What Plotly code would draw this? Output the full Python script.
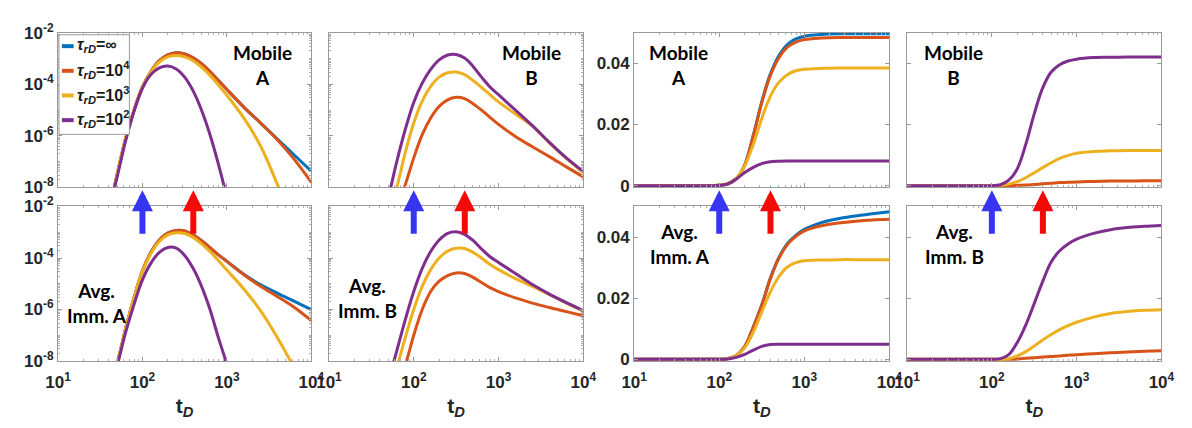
import numpy as np
import plotly.graph_objects as go
from plotly.subplots import make_subplots

W, H = 1192, 428

# dimensionless time grid shared by every curve
t_d = [10, 31.6, 50.1, 63.1, 79.4, 100, 125.9, 158.5, 199.5, 251.2, 316.2,
       398.1, 501.2, 631.0, 794.3, 1000, 1584.9, 2511.9, 3981.1, 6309.6, 10000]

# ---- Mobile A (log scale) ----
mob_a_inf = [1e-16, 3.16e-11, 3.16e-8, 7.94e-7, 1.0e-5, 7.94e-5, 3.16e-4, 8.32e-4, 1.41e-3, 1.70e-3, 1.51e-3,
             1.07e-3, 6.31e-4, 3.16e-4, 1.41e-4, 6.31e-5, 1.32e-5, 3.16e-6, 7.41e-7, 1.78e-7, 4.27e-8]
mob_a_1e4 = [1e-16, 3.16e-11, 3.16e-8, 7.94e-7, 1.0e-5, 7.94e-5, 3.16e-4, 8.32e-4, 1.41e-3, 1.70e-3, 1.51e-3,
             1.07e-3, 6.31e-4, 3.16e-4, 1.41e-4, 6.31e-5, 1.32e-5, 3.16e-6, 6.92e-7, 1.20e-7, 1.58e-8]
mob_a_1e3 = [1e-16, 3.16e-11, 3.16e-8, 7.94e-7, 1.0e-5, 7.94e-5, 3.02e-4, 7.41e-4, 1.17e-3, 1.32e-3, 1.17e-3,
             8.32e-4, 4.68e-4, 2.24e-4, 9.55e-5, 3.80e-5, 5.01e-6, 3.98e-7, 1.26e-8, 2.51e-10, 3.16e-12]
mob_a_1e2 = [1e-20, 6.31e-11, 2.51e-8, 6.31e-7, 8.91e-6, 7.08e-5, 2.40e-4, 4.37e-4, 5.13e-4, 3.98e-4, 1.91e-4,
             5.62e-5, 1.0e-5, 1.12e-6, 7.94e-8, 3.98e-9, 3.16e-12, 1e-15, 1e-19, 1e-23, 1e-28]

# ---- Mobile B (log scale) ----
mob_b_1e4 = [1e-20, 1e-12, 1.26e-10, 1.58e-9, 1.26e-8, 1.41e-7, 1.12e-6, 5.01e-6, 1.41e-5, 2.51e-5, 3.16e-5,
             2.82e-5, 1.78e-5, 1.0e-5, 5.25e-6, 2.82e-6, 9.55e-7, 3.80e-7, 1.58e-7, 6.31e-8, 2.57e-8]
mob_b_1e3 = [1e-20, 3.16e-12, 7.94e-10, 1.0e-8, 2.24e-7, 3.16e-6, 2.24e-5, 8.32e-5, 1.91e-4, 2.82e-4, 3.02e-4,
             2.40e-4, 1.41e-4, 7.59e-5, 3.98e-5, 2.09e-5, 7.08e-6, 2.40e-6, 5.37e-7, 1.35e-7, 3.80e-8]
mob_b_1e2 = [1e-20, 1e-11, 3.98e-9, 1.0e-7, 1.78e-6, 2.0e-5, 1.12e-4, 3.80e-4, 8.91e-4, 1.38e-3, 1.45e-3,
             1.05e-3, 5.01e-4, 1.91e-4, 7.94e-5, 3.98e-5, 1.0e-5, 2.51e-6, 5.62e-7, 1.41e-7, 4.17e-8]

# ---- Average immobile A (log scale) ----
imm_a_inf = [1e-16, 6.31e-11, 7.94e-9, 1.78e-7, 2.82e-6, 3.16e-5, 1.66e-4, 5.01e-4, 9.33e-4, 1.17e-3, 1.12e-3,
             7.94e-4, 4.68e-4, 2.51e-4, 1.32e-4, 7.41e-5, 2.34e-5, 9.12e-6, 4.27e-6, 2.09e-6, 1.0e-6]
imm_a_1e4 = [1e-16, 6.31e-11, 7.94e-9, 1.78e-7, 2.82e-6, 3.16e-5, 1.66e-4, 5.01e-4, 9.33e-4, 1.17e-3, 1.12e-3,
             7.94e-4, 4.68e-4, 2.51e-4, 1.32e-4, 7.41e-5, 2.24e-5, 7.94e-6, 3.16e-6, 1.20e-6, 3.72e-7]
imm_a_1e3 = [1e-16, 6.31e-11, 7.94e-9, 1.78e-7, 2.82e-6, 3.02e-5, 1.51e-4, 4.37e-4, 7.94e-4, 9.55e-4, 8.91e-4,
             6.31e-4, 3.55e-4, 1.78e-4, 7.94e-5, 3.39e-5, 6.31e-6, 8.91e-7, 7.94e-8, 5.01e-9, 1.58e-10]
imm_a_1e2 = [1e-20, 2.0e-11, 6.31e-9, 1.26e-7, 1.58e-6, 1.41e-5, 6.31e-5, 1.66e-4, 2.57e-4, 2.40e-4, 1.26e-4,
             3.98e-5, 7.94e-6, 1.0e-6, 7.94e-8, 7.08e-9, 1e-11, 1e-14, 1e-18, 1e-22, 1e-26]

# ---- Average immobile B (log scale) ----
imm_b_1e4 = [1e-20, 3.16e-13, 1e-10, 1.26e-9, 7.08e-9, 1.0e-7, 1.0e-6, 5.01e-6, 1.26e-5, 2.09e-5, 2.63e-5,
             2.51e-5, 1.78e-5, 1.12e-5, 7.08e-6, 5.01e-6, 2.82e-6, 1.78e-6, 1.20e-6, 8.32e-7, 5.75e-7]
imm_b_1e3 = [1e-20, 1e-12, 5.01e-10, 5.62e-9, 7.94e-8, 1.0e-6, 7.94e-6, 3.55e-5, 1.0e-4, 1.86e-4, 2.40e-4,
             2.34e-4, 1.66e-4, 1.0e-4, 5.62e-5, 3.55e-5, 1.58e-5, 7.94e-6, 3.80e-6, 1.78e-6, 8.71e-7]
imm_b_1e2 = [1e-20, 3.16e-12, 1.58e-9, 2.51e-8, 3.98e-7, 5.01e-6, 3.98e-5, 1.78e-4, 5.01e-4, 9.12e-4, 1.05e-3,
             8.32e-4, 4.79e-4, 2.24e-4, 1.12e-4, 6.76e-5, 2.51e-5, 9.33e-6, 3.98e-6, 1.86e-6, 9.12e-7]

# ---- Cumulative Mobile A (linear scale) ----
cum_mob_a_inf = [0, 0, 0, 0, 0, 0.0001, 0.0005, 0.0022, 0.0068, 0.0165, 0.0275,
                 0.0365, 0.0425, 0.0462, 0.0480, 0.0489, 0.0495, 0.0497, 0.0497, 0.0497, 0.0497]
cum_mob_a_1e4 = [0, 0, 0, 0, 0, 0.0001, 0.0005, 0.0022, 0.0067, 0.0163, 0.0272,
                 0.0360, 0.0418, 0.0453, 0.0470, 0.0478, 0.0483, 0.0485, 0.0485, 0.0485, 0.0485]
cum_mob_a_1e3 = [0, 0, 0, 0, 0, 0.0002, 0.0007, 0.0025, 0.0065, 0.0135, 0.0220,
                 0.0292, 0.0338, 0.0363, 0.0376, 0.0381, 0.0384, 0.0385, 0.0385, 0.0385, 0.0385]
cum_mob_a_1e2 = [0, 0, 0, 0, 0, 0.0001, 0.0006, 0.0022, 0.0043, 0.0060, 0.0072,
                 0.0078, 0.0080, 0.0081, 0.0081, 0.0081, 0.0081, 0.0081, 0.0081, 0.0081, 0.0081]

# ---- Cumulative Mobile B (linear scale) ----
cum_mob_b_1e4 = [0, 0, 0, 0, 0, 0, 0, 0, 0.0001, 0.0002, 0.0004,
                 0.0006, 0.0008, 0.0010, 0.0011, 0.0012, 0.0014, 0.0015, 0.0015, 0.0016, 0.0016]
cum_mob_b_1e3 = [0, 0, 0, 0, 0, 0, 0.0001, 0.0005, 0.0013, 0.0026, 0.0042,
                 0.0059, 0.0075, 0.0089, 0.0099, 0.0106, 0.0112, 0.0114, 0.0115, 0.0115, 0.0115]
cum_mob_b_1e2 = [0, 0, 0, 0, 0, 0, 0.0003, 0.0018, 0.0055, 0.0135, 0.0235,
                 0.0320, 0.0372, 0.0396, 0.0408, 0.0414, 0.0419, 0.0420, 0.0421, 0.0421, 0.0421]

# ---- Cumulative average immobile A (linear scale) ----
cum_imm_a_inf = [0, 0, 0, 0, 0, 0, 0.0002, 0.0012, 0.0042, 0.0105, 0.0178,
                 0.0265, 0.0332, 0.0378, 0.0405, 0.0425, 0.0447, 0.0460, 0.0469, 0.0476, 0.0483]
cum_imm_a_1e4 = [0, 0, 0, 0, 0, 0, 0.0002, 0.0012, 0.0042, 0.0105, 0.0177,
                 0.0263, 0.0330, 0.0375, 0.0402, 0.0420, 0.0437, 0.0446, 0.0452, 0.0456, 0.0458]
cum_imm_a_1e3 = [0, 0, 0, 0, 0, 0, 0.0002, 0.0012, 0.0038, 0.0088, 0.0155,
                 0.0220, 0.0270, 0.0302, 0.0316, 0.0322, 0.0325, 0.0326, 0.0326, 0.0326, 0.0326]
cum_imm_a_1e2 = [0, 0, 0, 0, 0, 0, 0.0001, 0.0006, 0.0016, 0.0030, 0.0042,
                 0.0048, 0.0049, 0.0049, 0.0049, 0.0049, 0.0049, 0.0049, 0.0049, 0.0049, 0.0049]

# ---- Cumulative average immobile B (linear scale) ----
cum_imm_b_1e4 = [0, 0, 0, 0, 0, 0, 0, 0, 0.0001, 0.0003, 0.0005,
                 0.0007, 0.0009, 0.0011, 0.0013, 0.0015, 0.0018, 0.0021, 0.0024, 0.0026, 0.0028]
cum_imm_b_1e3 = [0, 0, 0, 0, 0, 0, 0, 0.0002, 0.0011, 0.0025, 0.0043,
                 0.0063, 0.0081, 0.0097, 0.0110, 0.0121, 0.0138, 0.0150, 0.0156, 0.0160, 0.0162]
cum_imm_b_1e2 = [0, 0, 0, 0, 0, 0, 0.0002, 0.0015, 0.0055, 0.0112, 0.0182,
                 0.0255, 0.0318, 0.0355, 0.0377, 0.0393, 0.0412, 0.0424, 0.0431, 0.0435, 0.0438]

# reaction-time cases and their legend labels
tau_keys = ["inf", "1e4", "1e3", "1e2"]
tau_labels = ["<i>τ</i><sub><i>rD</i></sub>=∞",
              "<i>τ</i><sub><i>rD</i></sub>=10<sup>4</sup>",
              "<i>τ</i><sub><i>rD</i></sub>=10<sup>3</sup>",
              "<i>τ</i><sub><i>rD</i></sub>=10<sup>2</sup>"]
tau_colors = ["#0072BD", "#D95319", "#EDB120", "#7E2F8E"]

# marker times highlighted by arrows
arrow_times = [100, 400]
arrow_colors = ["#3535f2", "#f50a0a"]

panels = [
    # (row, col, log y?, series, label lines, label position in px)
    (1, 1, True, {"inf": mob_a_inf, "1e4": mob_a_1e4, "1e3": mob_a_1e3, "1e2": mob_a_1e2}, "Mobile<br>A", (255, 56)),
    (1, 2, True, {"1e4": mob_b_1e4, "1e3": mob_b_1e3, "1e2": mob_b_1e2}, "Mobile<br>B", (530, 56)),
    (1, 3, False, {"inf": cum_mob_a_inf, "1e4": cum_mob_a_1e4, "1e3": cum_mob_a_1e3, "1e2": cum_mob_a_1e2}, "Mobile<br>A", (680, 56)),
    (1, 4, False, {"1e4": cum_mob_b_1e4, "1e3": cum_mob_b_1e3, "1e2": cum_mob_b_1e2}, "Mobile<br>B", (961, 56)),
    (2, 1, True, {"inf": imm_a_inf, "1e4": imm_a_1e4, "1e3": imm_a_1e3, "1e2": imm_a_1e2}, "Avg.<br>Imm. A", (86, 307)),
    (2, 2, True, {"1e4": imm_b_1e4, "1e3": imm_b_1e3, "1e2": imm_b_1e2}, "Avg.<br>Imm. B", (362, 301)),
    (2, 3, False, {"inf": cum_imm_a_inf, "1e4": cum_imm_a_1e4, "1e3": cum_imm_a_1e3, "1e2": cum_imm_a_1e2}, "Avg.<br>Imm. A", (682, 245)),
    (2, 4, False, {"1e4": cum_imm_b_1e4, "1e3": cum_imm_b_1e3, "1e2": cum_imm_b_1e2}, "Avg.<br>Imm. B", (962, 245)),
]

# subplot frames in pixels
COL_PX = [(46, 305), (323, 583), (635, 896), (914, 1174)]
ROW_PX = [(22, 185), (205, 368)]

# hand-placed legend frame and rows (pixels) inside the first panel
LEG_BOX = (47, 24, 119, 129)
LEG_ROWS = [36, 62, 88, 114]

fig = make_subplots(rows=2, cols=4)

for r, c, is_log, series, label, _ in panels:
    for key, name, color in zip(tau_keys, tau_labels, tau_colors):
        if key not in series:
            continue
        fig.add_trace(go.Scatter(
            x=t_d, y=series[key], mode="lines", name=name, legendgroup=key,
            showlegend=False,
            line=dict(color=color, width=3, shape="spline", smoothing=1),
            hoverinfo="skip"), row=r, col=c)

FONT = "Liberation Sans"
tick_font = dict(family=FONT, size=17, color="#262626", weight="bold")
frame = dict(showline=True, linecolor="#9a9a9a", linewidth=1, mirror="ticks",
             ticks="inside", ticklen=4, tickcolor="#9a9a9a", showgrid=False, zeroline=False)

x_major = [10, 100, 1000, 10000]
x_major_txt = ["<b>10<sup>1</sup></b>", "<b>10<sup>2</sup></b>", "<b>10<sup>3</sup></b>", "<b>10<sup>4</sup></b>"]
x_minor = [k * 10 ** n for n in range(1, 4) for k in range(2, 10)]
y_major = [1e-8, 1e-6, 1e-4, 1e-2]
y_major_txt = ["<b>10<sup>-8</sup></b>", "<b>10<sup>-6</sup></b>", "<b>10<sup>-4</sup></b>", "<b>10<sup>-2</sup></b>"]
y_minor = [k * 10.0 ** n for n in range(-8, -2) for k in range(1, 10) if not (k == 1 and n % 2 == 0)]

annotations = []
shapes = []
for idx, (r, c, is_log, series, label, (lx, ly)) in enumerate(panels):
    n = idx + 1
    x0, x1 = COL_PX[c - 1]
    y0, y1 = ROW_PX[r - 1]
    xa = dict(frame, type="log", range=[1, 4], domain=[x0 / W, x1 / W],
              tickvals=x_major, ticktext=x_major_txt, tickfont=tick_font,
              showticklabels=(r == 2), ticklabelstandoff=6,
              minor=dict(ticks="inside", ticklen=2, tickcolor="#b0b0b0", tickvals=x_minor))
    if r == 2:
        xa["title"] = dict(text="<b>t<sub><i>D</i></sub></b>", standoff=6,
                           font=dict(family=FONT, size=21, color="#262626"))
    if is_log:
        ya = dict(frame, type="log", range=[-8, -2], tickvals=y_major, ticktext=y_major_txt,
                  minor=dict(ticks="inside", ticklen=2, tickcolor="#b0b0b0", tickvals=y_minor))
    else:
        ya = dict(frame, type="linear", range=[-0.0006, 0.05], tickvals=[0, 0.02, 0.04],
                  ticktext=["<b>0</b>", "<b>0.02</b>", "<b>0.04</b>"])
    ya.update(domain=[1 - y1 / H, 1 - y0 / H], tickfont=tick_font,
              showticklabels=(c in (1, 3)))
    fig.layout[f"xaxis{n}"].update(xa)
    fig.layout[f"yaxis{n}"].update(ya)

    annotations.append(dict(text=f"<b>{label}</b>", x=lx / W, y=1 - ly / H, xref="paper", yref="paper",
                            showarrow=False, xanchor="center", yanchor="middle",
                            font=dict(family="Lato", size=19, color="black")))

# arrows linking the two rows at the marked times
for c in range(4):
    for t, col in zip(arrow_times, arrow_colors):
        annotations.append(dict(text="", x=float(np.log10(t)), xref=f"x{5 + c}",
                                y=1 - 188 / H, yref="paper", ax=0, ay=45,
                                showarrow=True, arrowhead=2, arrowsize=0.7,
                                arrowwidth=6, arrowcolor=col))

# legend: framed box with a short line key per reaction-time case
bx0, by0, bx1, by1 = LEG_BOX
shapes.append(dict(type="rect", xref="paper", yref="paper",
                   x0=bx0 / W, x1=bx1 / W, y0=1 - by1 / H, y1=1 - by0 / H,
                   fillcolor="white", line=dict(color="#9a9a9a", width=1), layer="above"))
for name, color, ry in zip(tau_labels, tau_colors, LEG_ROWS):
    shapes.append(dict(type="line", xref="paper", yref="paper",
                       x0=50 / W, x1=62 / W, y0=1 - ry / H, y1=1 - ry / H,
                       line=dict(color=color, width=4), layer="above"))
    annotations.append(dict(text=f"<b>{name}</b>", x=63 / W, y=1 - (ry - 1) / H, xref="paper", yref="paper",
                            showarrow=False, xanchor="left", yanchor="middle",
                            font=dict(family=FONT, size=16, color="#1a1a1a")))

fig.update_layout(
    width=W, height=H, margin=dict(l=0, r=0, t=0, b=0),
    paper_bgcolor="white", plot_bgcolor="white",
    annotations=annotations, shapes=shapes, showlegend=False,
)

fig.write_html("out.html")
